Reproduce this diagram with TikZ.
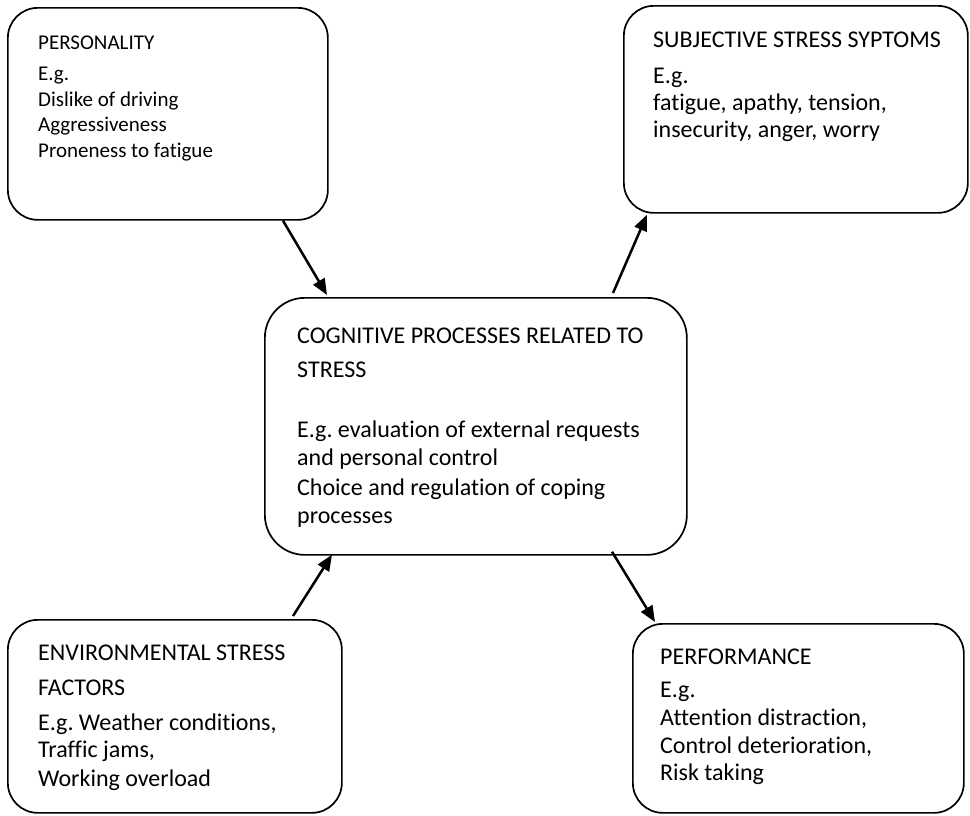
\documentclass[tikz,border=0pt]{standalone}
\usepackage{fontspec}
\setmainfont{Carlito}[Ligatures=NoCommon]
\frenchspacing
\usetikzlibrary{arrows.meta,calc}
\begin{document}
\begin{tikzpicture}[x=1pt,y=-1pt,
  box/.style={draw, line width=1.7pt, rounded corners=30pt, anchor=north west, inner sep=0pt, rectangle},
  conn/.style={line width=2.5pt, -{Triangle[length=16pt,width=13pt]}},
  lbl/.style={anchor=base west, inner sep=0pt},
  fsmall/.style={font=\fontsize{21}{25}\selectfont},
  fbig/.style={font=\fontsize{24}{29}\selectfont}
]
\useasboundingbox (0,0) rectangle (970,815);

% boxes
\node[box, minimum width=320pt, minimum height=212pt] (pers) at (7,7) {};
\node[box, minimum width=344pt, minimum height=207pt] (subj) at (623,5) {};
\node[box, rounded corners=40pt, minimum width=422pt, minimum height=257pt] (cog) at (264,297) {};
\node[box, minimum width=334pt, minimum height=193pt] (env) at (7,619) {};
\node[box, minimum width=331pt, minimum height=189pt] (perf) at (632,623) {};

% personality text
\node[lbl, fsmall] (p1) at (38,49) {PERSONALITY};
\node[lbl, fsmall] (p2) at (38,80) {E.g.};
\node[lbl, fsmall] (p3) at (38,106) {Dislike of driving};
\node[lbl, fsmall] (p4) at (38,131) {Aggressiveness};
\node[lbl, fsmall] (p5) at (38,157) {Proneness to fatigue};

% subjective text
\node[lbl, fbig] (s1) at (653,47) {SUBJECTIVE STRESS SYPTOMS};
\node[lbl, fbig] (s2) at (653,83) {E.g.};
\node[lbl, fbig] (s3) at (653,110) {fatigue, apathy, tension,};
\node[lbl, fbig] (s4) at (653,137) {insecurity, anger, worry};

% cognitive text
\node[lbl, fbig] (c1) at (297,343) {COGNITIVE PROCESSES RELATED TO};
\node[lbl, fbig] (c2) at (297,377) {STRESS};
\node[lbl, fbig] (c3) at (297,437) {E.g. evaluation of external requests};
\node[lbl, fbig] (c4) at (297,465) {and personal control};
\node[lbl, fbig] (c5) at (297,495) {Choice and regulation of coping};
\node[lbl, fbig] (c6) at (297,523) {processes};

% environmental text
\node[lbl, fbig] (e1) at (38,660) {ENVIRONMENTAL STRESS};
\node[lbl, fbig] (e2) at (38,695) {FACTORS};
\node[lbl, fbig] (e3) at (38,730) {E.g. Weather conditions,};
\node[lbl, fbig] (e4) at (38,757) {Traffic jams,};
\node[lbl, fbig] (e5) at (38,786) {Working overload};

% performance text
\node[lbl, fbig] (f1) at (660,664) {PERFORMANCE};
\node[lbl, fbig] (f2) at (660,697) {E.g.};
\node[lbl, fbig] (f3) at (660,725) {Attention distraction,};
\node[lbl, fbig] (f4) at (660,753) {Control deterioration,};
\node[lbl, fbig] (f5) at (660,780) {Risk taking};

% connectors
\draw[conn] ($(pers.south west)+(276,0)$) -- ($(cog.north west)+(63,-2)$);
\draw[conn] ($(cog.north west)+(349,-4)$) -- ($(subj.south west)+(24,1)$);
\draw[conn] ($(env.north west)+(286,-3)$) -- ($(cog.south west)+(68,-1)$);
\draw[conn] ($(cog.south west)+(348,-4)$) -- ($(perf.north west)+(23,-1)$);
\end{tikzpicture}
\end{document}
